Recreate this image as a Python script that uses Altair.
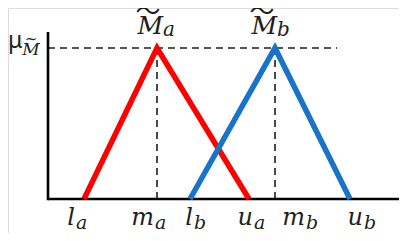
import altair as alt
import pandas as pd

# triangular fuzzy numbers (x in abstract units 0..100, membership mu)
red_x = [19.44, 38.11, 61.64]
red_mu = [0, 1, 0]
blue_x = [46.55, 68.29, 87.47]
blue_mu = [0, 1, 0]

# bottom labels
main_text = ["l", "m", "l", "u", "m", "u"]
sub_text = ["a", "a", "b", "a", "b", "b"]
label_x = [17.14, 37.34, 47.31, 62.66, 75.96, 90.79]

# top labels
top_sub = ["a", "b"]
top_x = [39.64, 68.8]
tilde_x = [35.81, 64.96]

X = alt.Scale(domain=[0, 100], nice=False, zero=False)
Y = alt.Scale(domain=[-0.2252, 1.2649], nice=False, zero=False)
SERIF = "DejaVu Serif"
INK = "#1e1e1e"


def enc(x="x", y="y", x2=None, y2=None):
    out = {
        "x": alt.X(x, type="quantitative", scale=X, axis=None),
        "y": alt.Y(y, type="quantitative", scale=Y, axis=None),
    }
    if x2:
        out["x2"] = alt.X2(x2)
    if y2:
        out["y2"] = alt.Y2(y2)
    return out


axes_df = pd.DataFrame({"x": [10.23, 10.23], "x2": [10.23, 100.0], "y": [-0.008, 0.0], "y2": [1.106, 0.0]})
axes = alt.Chart(axes_df).mark_rule(color="black", strokeWidth=2.6).encode(**enc(x2="x2", y2="y2"))

dash_df = pd.DataFrame({
    "x": [10.23, red_x[1], blue_x[1]],
    "x2": [84.14, red_x[1], blue_x[1]],
    "y": [1.0, 0.0, 0.0],
    "y2": [1.0, 1.0, 1.0],
})
dashes = alt.Chart(dash_df).mark_rule(color=INK, strokeWidth=1.6, strokeDash=[7, 5]).encode(
    **enc(x2="x2", y2="y2"))

red_df = pd.DataFrame({"x": red_x, "y": red_mu, "o": [0, 1, 2]})
blue_df = pd.DataFrame({"x": blue_x, "y": blue_mu, "o": [0, 1, 2]})
red = alt.Chart(red_df).mark_line(color="#FF0000", strokeWidth=5.5, strokeCap="butt", strokeJoin="miter").encode(
    **enc(), order="o:Q")
blue = alt.Chart(blue_df).mark_line(color="#1874C8", strokeWidth=5.5, strokeCap="butt", strokeJoin="miter").encode(
    **enc(), order="o:Q")

bmain_df = pd.DataFrame({"t": main_text, "x": label_x, "y": [-0.172] * 6})
bsub_df = pd.DataFrame({"t": sub_text, "x": label_x, "y": [-0.199] * 6})
bmain = alt.Chart(bmain_df).mark_text(font=SERIF, fontStyle="italic", fontSize=24, align="right",
                                      baseline="alphabetic", color=INK).encode(**enc(), text="t")
bsub = alt.Chart(bsub_df).mark_text(font=SERIF, fontStyle="italic", fontSize=19, align="left",
                                    baseline="alphabetic", color=INK, dx=1).encode(**enc(), text="t")

tM_df = pd.DataFrame({"t": ["M", "M"], "x": top_x, "y": [1.093, 1.093]})
tS_df = pd.DataFrame({"t": top_sub, "x": top_x, "y": [1.08, 1.08]})
tT_df = pd.DataFrame({"t": ["〜", "〜"], "x": tilde_x, "y": [1.236, 1.236]})
tM = alt.Chart(tM_df).mark_text(font=SERIF, fontStyle="italic", fontSize=25, align="right",
                                baseline="alphabetic", color=INK).encode(**enc(), text="t")
tS = alt.Chart(tS_df).mark_text(font=SERIF, fontStyle="italic", fontSize=20, align="left",
                                baseline="alphabetic", color=INK).encode(**enc(), text="t")
tT = alt.Chart(tT_df).mark_text(font="Noto Sans CJK JP", fontSize=25, align="center", baseline="middle",
                                color=INK).encode(**enc(), text="t")

mu_df = pd.DataFrame({"t": ["μ"], "x": [0.0], "y": [1.0]})
mu = alt.Chart(mu_df).mark_text(font="Noto Sans", fontSize=23, align="left", baseline="alphabetic",
                                color=INK).encode(**enc(), text="t")
muM_df = pd.DataFrame({"t": ["M"], "x": [5.9], "y": [0.954]})
muM = alt.Chart(muM_df).mark_text(font=SERIF, fontStyle="italic", fontSize=17, align="center",
                                  baseline="alphabetic", color=INK).encode(**enc(), text="t")
muT_df = pd.DataFrame({"t": ["~"], "x": [5.9], "y": [1.06]})
muT = alt.Chart(muT_df).mark_text(font=SERIF, fontSize=15, align="center", baseline="middle",
                                  color=INK).encode(**enc(), text="t")

chart = alt.layer(dashes, axes, red, blue, bmain, bsub, tM, tS, tT, mu, muM, muT).properties(
    width=391, height=225, padding=0, autosize=alt.AutoSizeParams(type="none")
).configure_view(stroke=None).configure(background="white")

chart.save("out.html", embed_options={"renderer": "svg", "actions": False})
